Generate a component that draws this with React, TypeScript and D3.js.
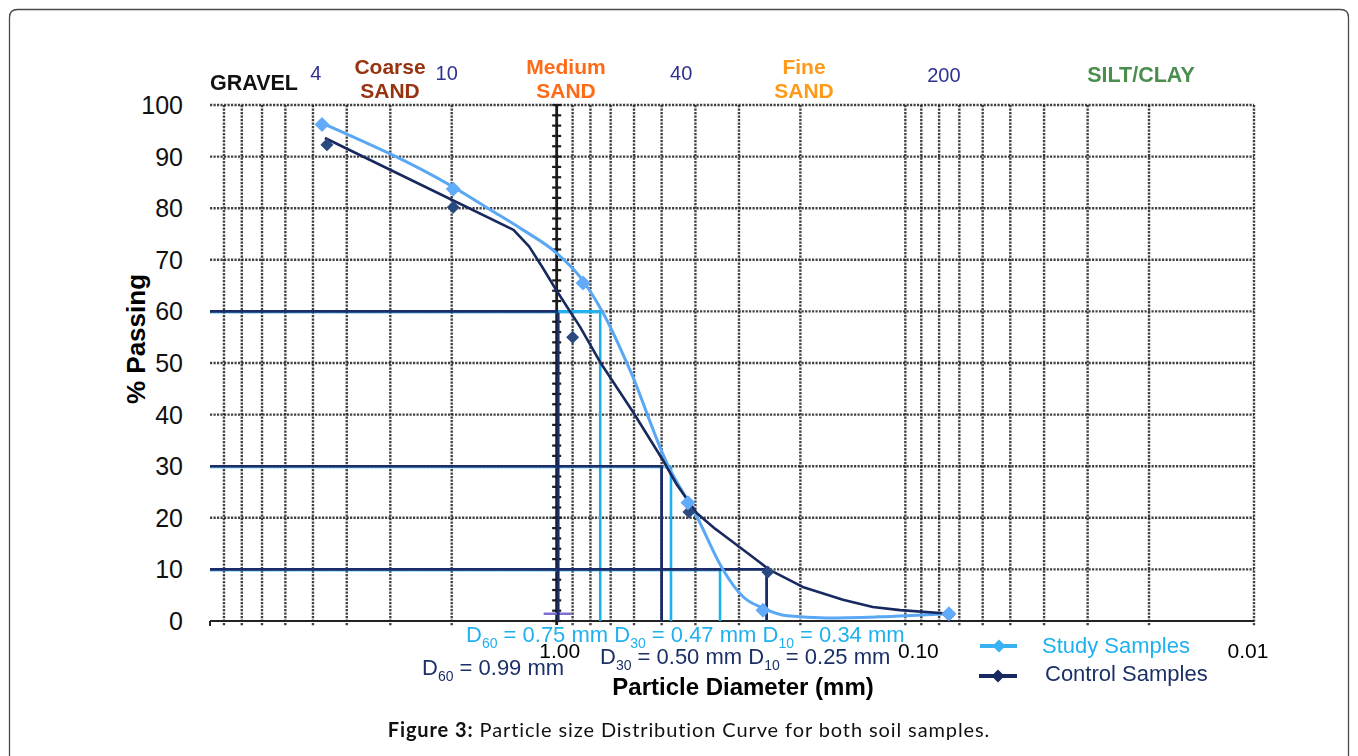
import React from 'react';
import * as d3 from 'd3';

// ---- data ----
const yTicks = [0, 10, 20, 30, 40, 50, 60, 70, 80, 90, 100];
const xTickValues = [1, 0.1, 0.01];
const xTickLabels = ['1.00', '0.10', '0.01'];

const sieveNumbers = ['4', '10', '40', '200'];
const sieveSizes = [4.75, 2.0, 0.425, 0.075];

const classTop = ['GRAVEL', 'Coarse', 'Medium', 'Fine', 'SILT/CLAY'];
const classBottom = ['', 'SAND', 'SAND', 'SAND', ''];
const classColors = ['#111111', '#963310', '#ff6a16', '#ff9a18', '#4b8d4d'];

// sieve markers
const studyDiam = [4.71, 1.98, 0.84, 0.42, 0.256, 0.075];
const studyPass = [96.2, 83.7, 65.5, 22.9, 2.1, 1.4];
const controlDiam = [4.56, 1.98, 0.9, 0.4175, 0.248, 0.075];
const controlPass = [92.3, 80.2, 55.0, 21.1, 9.5, 1.2];

// curves
const studyCurveD = [4.71, 1.98, 1.55, 1.25, 1.0, 0.857, 0.736, 0.616, 0.483, 0.396, 0.333, 0.292, 0.256, 0.218, 0.168, 0.12, 0.075];
const studyCurveP = [96.5, 84.1, 79.7, 75.8, 71.3, 66.7, 59.7, 48.6, 30.6, 20.2, 9.9, 4.7, 2.5, 1.0, 0.6, 0.8, 1.4];
const controlCurveD = [4.62, 1.33, 1.2, 1.1, 1.0, 0.857, 0.751, 0.604, 0.496, 0.452, 0.396, 0.35, 0.318, 0.28, 0.245, 0.197, 0.151, 0.124, 0.1035, 0.0744];
const controlCurveP = [93.6, 75.8, 72.6, 68.6, 64.0, 57.0, 50.2, 40.5, 31.2, 26.4, 20.9, 17.8, 15.7, 12.9, 9.9, 6.6, 4.1, 2.7, 2.1, 1.4];

// D-values
const dPercents = [60, 30, 10];
const studyDvalues = [0.75, 0.47, 0.34];
const controlDvalues = [0.99, 0.5, 0.25];

const W = 1358;
const H = 756;
const FONT = '"Liberation Sans", Arial, sans-serif';

const STUDY_LINE = '#5aa8f4';
const STUDY_MARK = '#62abfb';
const STUDY_D = '#1fb1ef';
const CONTROL_LINE = '#17295e';
const CONTROL_MARK = '#2b4a7e';
const CONTROL_D = '#1a2d6a';
const NAVY_TEXT = '#1c3068';
const SIEVE_TEXT = '#2f3190';

const x = d3.scaleLog().domain([10, 0.01]).range([208, 1254]);
const y = d3.scaleLinear().domain([0, 100]).range([621, 105]);

const diamond = (cx: number, cy: number, r: number) =>
  `M${cx},${cy - r}L${cx + r},${cy}L${cx},${cy + r}L${cx - r},${cy}Z`;

const studyCurve = d3
  .line<[number, number]>()
  .x((d) => x(d[0]))
  .y((d) => y(d[1]))
  .curve(d3.curveMonotoneX);

const controlCurve = d3
  .line<[number, number]>()
  .x((d) => x(d[0]))
  .y((d) => y(d[1]))
  .curve(d3.curveLinear);

// offsets for the loose labels of the figure
const xLabelNudge = [3, 13, -6];
const classX = [210, 390, 566, 804, 1141];

const DText = ({
  parts,
  xPos,
  yPos,
  color,
}: {
  parts: [string, string, string][];
  xPos: number;
  yPos: number;
  color: string;
}) => (
  <text x={xPos} y={yPos} fill={color} fontSize={22} fontFamily={FONT}>
    {parts.map(([pre, sub, post], i) => (
      <React.Fragment key={i}>
        <tspan>{pre}</tspan>
        <tspan fontSize={14} dy={6}>
          {sub}
        </tspan>
        <tspan dy={-6}>{post}</tspan>
      </React.Fragment>
    ))}
  </text>
);

export default function App() {
  const grid = x.ticks(30).filter((v) => v < 10 && v >= 0.01);
  const x0 = x(10) + 2;
  const x1 = x(0.01);

  const studyPts = studyCurveD.map((d, i) => [d, studyCurveP[i]] as [number, number]);
  const controlPts = controlCurveD.map((d, i) => [d, controlCurveP[i]] as [number, number]);

  return (
    <div style={{ position: 'absolute', left: 0, top: 0, width: W, height: H, background: '#fff' }}>
      <svg width={W} height={H} style={{ display: 'block' }}>
        <defs>
          <filter id="soft" x="-20%" y="-20%" width="140%" height="140%">
            <feGaussianBlur stdDeviation="0.55" />
          </filter>
        </defs>
        {/* frame */}
        <path
          d={`M9.5,800 L9.5,17.5 Q9.5,9.5 17.5,9.5 L1340.5,9.5 Q1348.5,9.5 1348.5,17.5 L1348.5,800`}
          fill="none"
          stroke="#4a4a4a"
          strokeWidth={1.3}
        />

        {/* grid */}
        <g filter="url(#soft)">
          {yTicks.map((t) => (
            <line
              key={'h' + t}
              x1={x0}
              x2={x1}
              y1={y(t)}
              y2={y(t)}
              stroke="#222"
              strokeWidth={2.4}
              strokeDasharray="2.2 1.3"
              opacity={t === 0 ? 0 : 0.85}
            />
          ))}
          {grid
            .filter((v) => Math.abs(v - 1) > 1e-9)
            .map((v) => (
              <line
                key={'v' + v}
                x1={x(v)}
                x2={x(v)}
                y1={y(100)}
                y2={y(0) + 5}
                stroke="#222"
                strokeWidth={2.4}
                strokeDasharray="2.2 1.3"
                opacity={0.85}
              />
            ))}
          {/* axis line */}
          <line x1={x0} x2={x1} y1={y(0)} y2={y(0)} stroke="#222" strokeWidth={2.2} />
          <line x1={x0} x2={x0} y1={y(0)} y2={y(0) + 5} stroke="#222" strokeWidth={2} />
          {/* 1.00 line with minor ticks */}
          <line x1={x(1)} x2={x(1)} y1={y(100)} y2={y(0) + 4} stroke="#1a1a1a" strokeWidth={2.8} />
          {d3.range(0, 101, 2).map((t) => (
            <line key={'m' + t} x1={x(1) - 4.5} x2={x(1) + 4.5} y1={y(t)} y2={y(t)} stroke="#1a1a1a" strokeWidth={2.2} />
          ))}
          <line x1={x(1) - 13} x2={x(1) + 15} y1={y(1.4)} y2={y(1.4)} stroke="#7a6fd0" strokeWidth={2.5} />
        </g>

        {/* D lines */}
        <g>
          {dPercents.map((p, i) => (
            <g key={'sd' + p}>
              <line x1={x0} x2={x(studyDvalues[i])} y1={y(p) + 1} y2={y(p) + 1} stroke={STUDY_D} strokeWidth={2.8} opacity={0.5} />
              <line
                x1={x(studyDvalues[i])}
                x2={x(studyDvalues[i])}
                y1={y(p)}
                y2={y(0)}
                stroke={STUDY_D}
                strokeWidth={2.6}
              />
            </g>
          ))}
          {dPercents.map((p, i) => (
            <g key={'cd' + p}>
              <line x1={x0} x2={x(controlDvalues[i])} y1={y(p)} y2={y(p)} stroke={CONTROL_D} strokeWidth={2.6} />
              <line
                x1={x(controlDvalues[i])}
                x2={x(controlDvalues[i])}
                y1={y(p)}
                y2={y(0)}
                stroke={CONTROL_D}
                strokeWidth={2.8}
              />
            </g>
          ))}
          <line x1={x(controlDvalues[0])} x2={x(studyDvalues[0])} y1={y(60)} y2={y(60)} stroke={STUDY_D} strokeWidth={2.6} />
        </g>

        {/* curves */}
        <path d={studyCurve(studyPts) || ''} fill="none" stroke={STUDY_LINE} strokeWidth={3} strokeLinejoin="round" />
        <path d={controlCurve(controlPts) || ''} fill="none" stroke={CONTROL_LINE} strokeWidth={2.6} strokeLinejoin="round" />
        <g filter="url(#soft)">
          {controlDiam.map((d, i) => (
            <path key={'cm' + i} d={diamond(x(d), y(controlPass[i]), 6.5)} fill={CONTROL_MARK} />
          ))}
          {studyDiam.map((d, i) => (
            <path key={'sm' + i} d={diamond(x(d), y(studyPass[i]), 7.5)} fill={STUDY_MARK} />
          ))}
        </g>

        {/* y axis labels */}
        {yTicks.map((t) => (
          <text key={'yl' + t} x={183} y={y(t) + 9} textAnchor="end" fontSize={25} fontFamily={FONT} fill="#111">
            {t}
          </text>
        ))}
        <text
          transform={`translate(145,339) rotate(-90)`}
          textAnchor="middle"
          fontSize={26}
          fontWeight="bold"
          fontFamily={FONT}
          fill="#000"
        >
          % Passing
        </text>

        {/* top labels */}
        {sieveNumbers.map((s, i) => (
          <text key={'sv' + s} x={x(sieveSizes[i]) - 5} y={i === 3 ? 82 : 80} textAnchor="middle" fontSize={20} fontFamily={FONT} fill={SIEVE_TEXT}>
            {s}
          </text>
        ))}
        {classTop.map((c, i) => (
          <g key={'cl' + c}>
            <text
              x={classX[i]}
              y={i === 0 ? 90 : i === 4 ? 82 : 74}
              textAnchor={i === 0 ? 'start' : 'middle'}
              fontSize={i === 0 || i === 4 ? 21.5 : 21}
              fontWeight="bold"
              fontFamily={FONT}
              fill={classColors[i]}
            >
              {c}
            </text>
            {classBottom[i] && (
              <text x={classX[i]} y={98} textAnchor="middle" fontSize={21} fontWeight="bold" fontFamily={FONT} fill={classColors[i]}>
                {classBottom[i]}
              </text>
            )}
          </g>
        ))}

        {/* x tick labels */}
        {xTickValues.map((v, i) => (
          <text key={'xl' + v} x={x(v) + xLabelNudge[i]} y={658} textAnchor="middle" fontSize={21} fontFamily={FONT} fill="#000">
            {xTickLabels[i]}
          </text>
        ))}

        {/* D annotations */}
        <DText
          xPos={466}
          yPos={642}
          color={STUDY_D}
          parts={[
            ['D', '60', ` = ${studyDvalues[0].toFixed(2)} mm `],
            ['D', '30', ` = ${studyDvalues[1].toFixed(2)} mm `],
            ['D', '10', ` = ${studyDvalues[2].toFixed(2)} mm`],
          ]}
        />
        <DText
          xPos={600}
          yPos={664}
          color={NAVY_TEXT}
          parts={[
            ['D', '30', ` = ${controlDvalues[1].toFixed(2)} mm `],
            ['D', '10', ` = ${controlDvalues[2].toFixed(2)} mm`],
          ]}
        />
        <DText xPos={422} yPos={675} color={NAVY_TEXT} parts={[['D', '60', ` = ${controlDvalues[0].toFixed(2)} mm`]]} />

        <text x={743} y={695} textAnchor="middle" fontSize={24} fontWeight="bold" fontFamily={FONT} fill="#000">
          Particle Diameter (mm)
        </text>

        {/* legend */}
        <g>
          <line x1={980} x2={1017} y1={646} y2={646} stroke="#3ab2f2" strokeWidth={4} />
          <path d={diamond(999, 646, 6.5)} fill="#3ab2f2" />
          <text x={1042} y={653} fontSize={22} fontFamily={FONT} fill={STUDY_D}>
            Study Samples
          </text>
          <line x1={979} x2={1017} y1={676} y2={676} stroke={CONTROL_LINE} strokeWidth={4} />
          <path d={diamond(998, 676, 6.5)} fill={CONTROL_LINE} />
          <text x={1045} y={681} fontSize={22} fontFamily={FONT} fill={NAVY_TEXT}>
            Control Samples
          </text>
        </g>

        {/* caption */}
        <text
          x={689}
          y={737}
          textAnchor="middle"
          fontSize={20}
          letterSpacing={0.9}
          fontFamily='Lato, "Noto Sans", sans-serif'
          fill="#111"
        >
          <tspan fontWeight="bold">Figure 3:</tspan>
          <tspan> Particle size Distribution Curve for both soil samples.</tspan>
        </text>
      </svg>
    </div>
  );
}
